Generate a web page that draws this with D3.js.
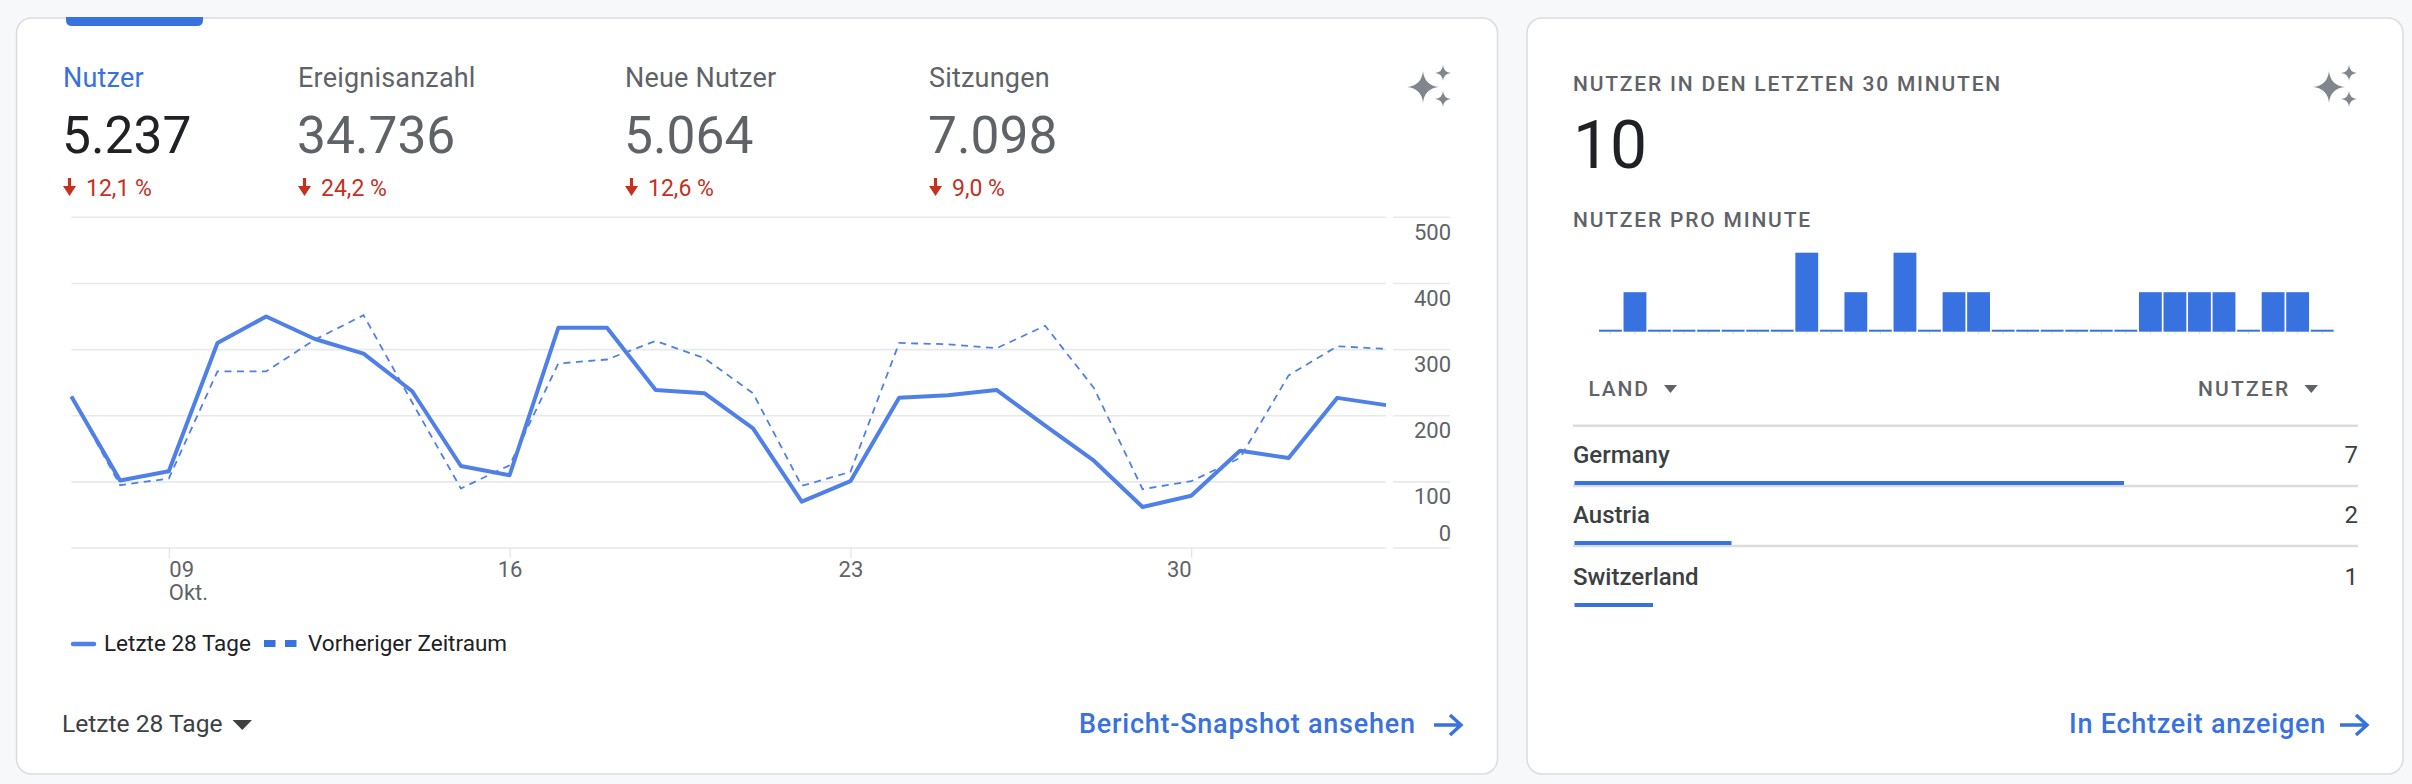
<!DOCTYPE html>
<html>
<head>
<meta charset="utf-8">
<script src="https://cdn.jsdelivr.net/npm/d3@7"></script>
<style>
  html, body { margin: 0; padding: 0; background: #f7f8f9; }
  svg { display: block; font-family: Roboto, sans-serif; }
</style>
</head>
<body>
<svg id="page" width="2412" height="784"></svg>
<script>
// Line chart, users per day
var days = [7,8,9,10,11,12,13,14,15,16,17,18,19,20,21,22,23,24,25,26,27,28,29,30,31,32,33,34];
var currentUsers = [229,102,116,310,350,316,294,237,124,110,333,333,239,234,181,70,101,227,231,239,185,132,62,79,147,136,227,216];
var previousUsers = [229,95,105,267,267,315,352,220,90,125,279,285,313,287,234,94,115,310,308,302,336,242,89,101,136,261,305,301];
var yTicks = [0,100,200,300,400,500];
var xTickDays = [9,16,23,30];
var xTickLabels = ["09","16","23","30"];

// KPI row
var kpiNames = ["Nutzer","Ereignisanzahl","Neue Nutzer","Sitzungen"];
var kpiValues = ["5.237","34.736","5.064","7.098"];
var kpiDeltas = ["12,1 %","24,2 %","12,6 %","9,0 %"];

// Realtime card
var usersPerMinute = [0,1,0,0,0,0,0,0,2,0,1,0,2,0,1,1,0,0,0,0,0,0,1,1,1,1,0,1,1,0];
var countries = ["Germany","Austria","Switzerland"];
var countryUsers = [7,2,1];

var BLUE = "#3871e0", LINE = "#4f80e8", GREY = "#5f6368", DARK = "#202124", RED = "#c5301f", RULE = "#e8e9eb";

var svg = d3.select("#page");

function label(x, y, str, size, color, opts) {
  opts = opts || {};
  return svg.append("text")
    .attr("x", x).attr("y", y).text(str)
    .attr("font-size", size)
    .attr("fill", color)
    .attr("font-weight", opts.weight || 400)
    .attr("letter-spacing", opts.spacing || 0)
    .attr("text-anchor", opts.anchor || "start");
}

function card(x, y, w, h) {
  svg.append("rect").attr("x", x).attr("y", y).attr("width", w).attr("height", h)
    .attr("rx", 15).attr("fill", "#fff").attr("stroke", "#dadce0").attr("stroke-width", 1.5);
}

// four pointed star, used three times for the insights icon
function star(cx, cy, r) {
  var k = r * 0.22;
  svg.append("path")
    .attr("d", `M${cx},${cy-r} Q${cx+k*0.4},${cy-k*0.4} ${cx+r},${cy} Q${cx+k*0.4},${cy+k*0.4} ${cx},${cy+r} Q${cx-k*0.4},${cy+k*0.4} ${cx-r},${cy} Q${cx-k*0.4},${cy-k*0.4} ${cx},${cy-r}Z`)
    .attr("fill", "#80868b");
}
function sparkle(cx, cy) {
  star(cx, cy, 16);
  star(cx + 20, cy - 14, 8);
  star(cx + 20, cy + 12, 8);
}

function arrowRight(x, cy) {
  svg.append("path")
    .attr("d", `M${x},${cy} H${x+27} M${x+16},${cy-10} L${x+27},${cy} L${x+16},${cy+10}`)
    .attr("fill", "none").attr("stroke", BLUE).attr("stroke-width", 3.4);
}

function caret(x1, x2, y1, y2, color) {
  svg.append("path")
    .attr("d", `M${x1},${y1} H${x2} L${(x1+x2)/2},${y2}Z`)
    .attr("fill", color);
}

card(16.5, 18, 1481, 756);
card(1527, 18, 876, 756);

// active tab marker
svg.append("path").attr("d", "M66,17 H203 V20 Q203,26 197,26 H72 Q66,26 66,20Z").attr("fill", BLUE);

// KPI row
var kpiX = [63, 298, 625, 929];
kpiNames.forEach(function (name, i) {
  var x = kpiX[i];
  label(x, 87, name, 27, i == 0 ? BLUE : GREY, { spacing: 0.2 });
  label(x - 1, 153, kpiValues[i], 51.5, i == 0 ? DARK : GREY);
  svg.append("path")
    .attr("d", `M${x+6.5},178 V190`)
    .attr("fill", "none").attr("stroke", RED).attr("stroke-width", 3.2);
  svg.append("path")
    .attr("d", `M${x},186 H${x+13} L${x+6.5},196Z`)
    .attr("fill", RED);
  label(x + 23, 196, kpiDeltas[i], 23, RED);
});
sparkle(1423, 87);

// main chart
var x = d3.scalePoint().domain(days).range([71.4, 1386]);
var y = d3.scaleLinear().domain([0, 500]).range([548, 217.3]);

// gridlines stop at the plot edge, the axis gutter carries its own short piece
var gridPieces = [[71.4, 1386], [1393, 1450]];
gridPieces.forEach(function (piece) {
  svg.append("g").selectAll("line").data(yTicks).join("line")
    .attr("x1", piece[0]).attr("x2", piece[1])
    .attr("y1", d => y(d)).attr("y2", d => y(d))
    .attr("stroke", RULE).attr("stroke-width", 1.6);
});

var yAxis = svg.append("g").attr("transform", "translate(1451,0)")
  .call(d3.axisLeft(y).tickValues(yTicks).tickSize(0).tickPadding(0));
yAxis.select(".domain").remove();
yAxis.selectAll("text")
  .attr("font-size", 22).attr("fill", GREY).attr("font-family", "Roboto")
  .attr("dy", d => d == 0 ? -8 : 22);

var xAxis = svg.append("g").attr("transform", "translate(0,548)")
  .call(d3.axisBottom(x).tickValues(xTickDays).tickSize(10).tickPadding(3)
    .tickFormat((d, i) => xTickLabels[i]));
xAxis.select(".domain").remove();
xAxis.selectAll("line").attr("stroke", "#dadce0").attr("stroke-width", 1);
var xAnchors = ["start", "middle", "middle", "end"];
xAxis.selectAll("text")
  .attr("font-size", 22).attr("fill", GREY).attr("font-family", "Roboto")
  .attr("text-anchor", (d, i) => xAnchors[i]);
label(x(9), 600, "Okt.", 22, GREY);

var line = d3.line().x((d, i) => x(days[i])).y(d => y(d));
svg.append("path").datum(previousUsers).attr("d", line)
  .attr("fill", "none").attr("stroke", LINE).attr("stroke-width", 1.8).attr("stroke-dasharray", "7,5.5");
svg.append("path").datum(currentUsers).attr("d", line)
  .attr("fill", "none").attr("stroke", LINE).attr("stroke-width", 4).attr("stroke-linejoin", "round");

// legend
svg.append("line").attr("x1", 73).attr("x2", 94).attr("y1", 644).attr("y2", 644)
  .attr("stroke", LINE).attr("stroke-width", 4.5).attr("stroke-linecap", "round");
label(104, 651, "Letzte 28 Tage", 22.5, DARK);
[264, 285].forEach(function (sx) {
  svg.append("rect").attr("x", sx).attr("y", 640).attr("width", 11.5).attr("height", 7).attr("fill", BLUE);
});
label(308, 651, "Vorheriger Zeitraum", 22.5, DARK);

// card footer
label(62, 732, "Letzte 28 Tage", 24.6, "#3c4043");
caret(232.5, 252, 720, 730, "#3c4043");
label(1079, 733, "Bericht-Snapshot ansehen", 27, BLUE, { weight: 500, spacing: 0.75 });
arrowRight(1434, 725);

// realtime card
label(1573, 91, "NUTZER IN DEN LETZTEN 30 MINUTEN", 21, GREY, { weight: 500, spacing: 1.8 });
label(1573, 168, "10", 66, DARK);
label(1573, 227, "NUTZER PRO MINUTE", 21, GREY, { weight: 500, spacing: 1.8 });
sparkle(2329, 87);

var minuteX = d3.scaleBand().domain(d3.range(usersPerMinute.length)).range([1599, 2333.6]).paddingInner(0.07);
var minuteY = d3.scaleLinear().domain([0, 2]).range([331.7, 252.7]);

var minuteAxis = svg.append("g").attr("transform", "translate(0,331.7)")
  .call(d3.axisBottom(minuteX).tickSize(2.5).tickFormat(""));
minuteAxis.select(".domain").remove();
minuteAxis.selectAll("line").attr("stroke", "#dadce0");

svg.append("g").selectAll("rect").data(usersPerMinute).join("rect")
  .attr("x", (d, i) => minuteX(i))
  .attr("width", minuteX.bandwidth())
  .attr("y", d => d == 0 ? minuteY(0) - 2 : minuteY(d))
  .attr("height", d => d == 0 ? 2 : minuteY(0) - minuteY(d))
  .attr("fill", BLUE);

// country table
label(1588.5, 396, "LAND", 21, GREY, { weight: 500, spacing: 1.8 });
caret(1664, 1677, 385, 393, GREY);
label(2198, 396, "NUTZER", 21, GREY, { weight: 500, spacing: 2.2 });
caret(2304.5, 2318, 385, 393, GREY);

svg.append("line").attr("x1", 1573).attr("x2", 2358).attr("y1", 425.7).attr("y2", 425.7)
  .attr("stroke", "#dadce0").attr("stroke-width", 2.5);

var rowBaseline = [463, 523, 585];
var rowBarTop = [481, 541, 603];
var rowRule = [486, 546];
var countryX = d3.scaleLinear().domain([0, 10]).range([1574.5, 2359.5]);

countries.forEach(function (name, i) {
  label(1573, rowBaseline[i], name, 24, "#3c4043", { weight: 500 });
  label(2358, rowBaseline[i], countryUsers[i], 24, "#3c4043", { anchor: "end" });
  if (i < rowRule.length) {
    svg.append("line").attr("x1", 1573).attr("x2", 2358).attr("y1", rowRule[i]).attr("y2", rowRule[i])
      .attr("stroke", "#dadce0").attr("stroke-width", 2.5);
  }
  svg.append("rect").attr("x", countryX(0)).attr("y", rowBarTop[i])
    .attr("width", countryX(countryUsers[i]) - countryX(0)).attr("height", 4).attr("fill", BLUE);
});

label(2069, 733, "In Echtzeit anzeigen", 27, BLUE, { weight: 500, spacing: 0.75 });
arrowRight(2340, 725);
</script>
</body>
</html>
